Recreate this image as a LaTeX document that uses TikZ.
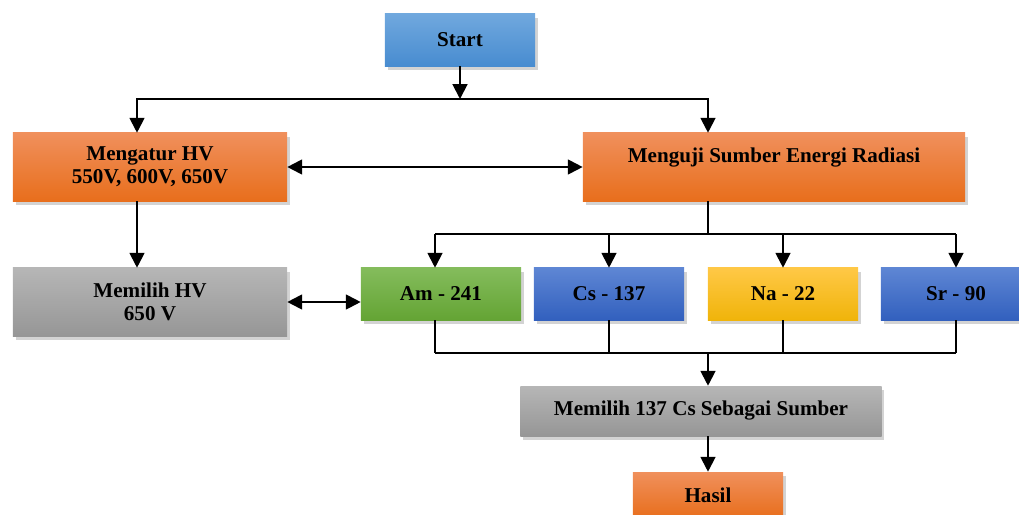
\documentclass[tikz,border=0pt]{standalone}
\usepackage{fontspec}
\setmainfont{Liberation Serif}
\usetikzlibrary{positioning, arrows.meta, shadows}

\definecolor{blueTop}{RGB}{112,168,222}
\definecolor{blueBot}{RGB}{72,140,208}
\definecolor{orangeTop}{RGB}{240,144,92}
\definecolor{orangeBot}{RGB}{232,110,28}
\definecolor{grayTop}{RGB}{182,182,182}
\definecolor{grayBot}{RGB}{150,150,150}
\definecolor{greenTop}{RGB}{132,188,92}
\definecolor{greenBot}{RGB}{100,164,52}
\definecolor{csTop}{RGB}{94,134,212}
\definecolor{csBot}{RGB}{50,96,190}
\definecolor{naTop}{RGB}{255,200,70}
\definecolor{naBot}{RGB}{240,180,10}

\begin{document}
\begin{tikzpicture}[
    x=0.025cm, y=-0.025cm,
    font=\bfseries\fontsize{15}{16.5}\selectfont,
    % Define styles for consistent blocks
    block/.style={rectangle, align=center, inner sep=0pt,
        drop shadow={opacity=0.35, shadow xshift=2pt, shadow yshift=-2.5pt}},
    startbox/.style={block, top color=blueTop, bottom color=blueBot},
    hotbox/.style={block, top color=orangeTop, bottom color=orangeBot},
    greybox/.style={block, top color=grayTop, bottom color=grayBot},
    arrow/.style={-{Triangle[length=10.5pt, width=10.5pt]}, line width=1.4pt},
    biarrow/.style={{Triangle[length=10.5pt, width=10.5pt]}-{Triangle[length=10.5pt, width=10.5pt]}, line width=1.4pt},
    wire/.style={line width=1.4pt}
]
\useasboundingbox (0,0) rectangle (1019,514);

% --- Nodes ---

% Start
\node[startbox, minimum width=3.75cm, minimum height=1.3cm] (start) at (460,40) {Start};

% HV setting and source test
\node[hotbox, minimum width=6.85cm, minimum height=1.7cm] (hv) at (150,167) {Mengatur HV\\550V, 600V, 650V};
\node[hotbox, minimum width=9.55cm, minimum height=1.7cm] (uji) at (774,167) {Menguji Sumber Energi Radiasi\\ \mbox{}};

% HV choice
\node[greybox, minimum width=6.85cm, minimum height=1.7cm] (hvpick) at (150,302) {Memilih HV\\650 V};

% Sources
\node[block, top color=greenTop, bottom color=greenBot, minimum width=4cm, minimum height=1.3cm] (am) at (441,294) {Am - 241};
\node[block, top color=csTop, bottom color=csBot, minimum width=3.75cm, minimum height=1.3cm] (cs) at (609,294) {Cs - 137};
\node[block, top color=naTop, bottom color=naBot, minimum width=3.75cm, minimum height=1.3cm] (na) at (783,294) {Na - 22};
\node[block, top color=csTop, bottom color=csBot, minimum width=3.75cm, minimum height=1.3cm] (sr) at (956,294) {Sr - 90};

% Source choice and result
\node[greybox, minimum width=9.025cm, minimum height=1.25cm] (pick) at (701,411) {Memilih 137 Cs Sebagai Sumber};
\node[hotbox, minimum width=3.75cm, minimum height=1.15cm] (hasil) at (708,495) {Hasil};

% --- Routing Arrows ---

% Split after start
\coordinate (cL) at (137,99);
\coordinate (cR) at (708,99);
\draw[arrow] (start) -- (start |- cL);
\draw[biarrow] (cL |- hv.north) -- (cL) -- (cR) -- (cR |- uji.north);

% Left column
\draw[biarrow] (hv) -- (uji);
\draw[arrow] (cL |- hv.south) -- (cL |- hvpick.north);
\draw[biarrow] (hvpick.east) -- (hvpick.east -| am.west);

% Fan out to sources
\coordinate (fan) at (708,234);
\draw[wire] (uji.south -| fan) -- (fan);
\foreach \n/\x in {am/435, cs/609, na/783, sr/956} {
    \coordinate (d\n) at (\x,234);
    \coordinate (u\n) at (\x,353);
    \draw[arrow] (d\n) -- (d\n |- \n.north);
    \draw[wire] (\n.south -| u\n) -- (u\n);
}
\draw[wire] (dam) -- (dsr);

% Join to source choice
\coordinate (join) at (708,353);
\draw[wire] (uam) -- (usr);
\draw[arrow] (join) -- (join |- pick.north);
\draw[arrow] (pick.south -| hasil) -- (hasil);

\end{tikzpicture}
\end{document}
